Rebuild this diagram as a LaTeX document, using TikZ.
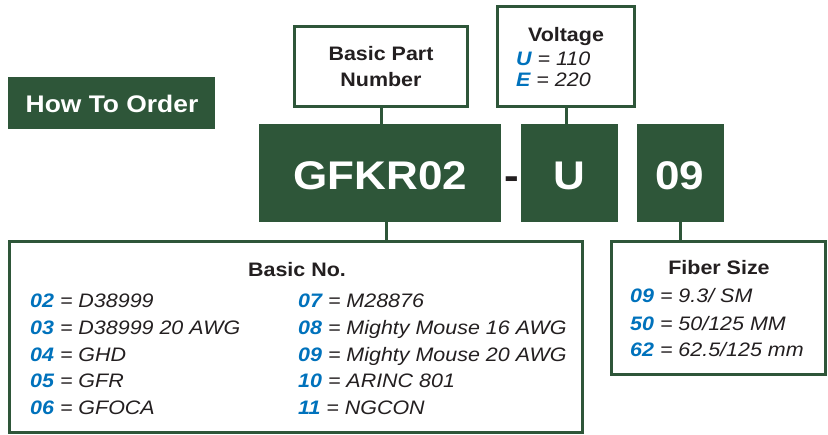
\documentclass[tikz,border=0pt]{standalone}
\usepackage{fontspec}
\setmainfont{Liberation Sans}[FakeStretch=1.1]
\usetikzlibrary{positioning}

\definecolor{hgreen}{RGB}{46,86,57}
\definecolor{hblue}{RGB}{0,114,188}
\definecolor{hink}{RGB}{35,31,32}
\newcommand{\pcode}[2]{{\bfseries\color{hblue}#1} = #2}

\begin{document}
\begin{tikzpicture}[x=1pt,y=-1pt,
	outline/.style={draw=hgreen,line width=3,fill=white,inner sep=0,outer sep=0},
	darkbox/.style={fill=hgreen,inner sep=0,outer sep=0},
	big/.style={anchor=base,text=white,font=\fontsize{40}{40}\selectfont\bfseries},
	head/.style={anchor=base,text=hink,font=\fontsize{19.5}{26}\selectfont\bfseries},
	row/.style={anchor=base west,inner sep=0,text=hink,font=\fontsize{19.5}{26}\selectfont\itshape},
	link/.style={draw=hgreen,line width=3}]
	\useasboundingbox (0,0) rectangle (828,435);
	% label boxes on top
	\node[darkbox, minimum width=207, minimum height=52] (order) at (111.5,103) {};
	\node[anchor=base, text=white, font=\fontsize{24}{24}\selectfont\bfseries] (ordertxt) at (112,113) {How To Order};
	\node[outline, minimum width=173, minimum height=80, align=center, text=hink, font=\fontsize{19.5}{26}\selectfont\bfseries] (bpn) at (381,66.5) {Basic Part\\Number};
	\node[outline, minimum width=137, minimum height=100] (volt) at (566,56.5) {};
	\node[head] (volttitle) at (566,42) {Voltage};
	\node[row] (voltu) at (516,65.5) {\pcode{U}{110}};
	\node[row] (volte) at (516,87) {\pcode{E}{220}};
	% part number blocks
	\node[darkbox, minimum width=242, minimum height=98] (part) at (380,173) {};
	\node[darkbox, minimum width=97, minimum height=98] (volts) at (569.5,173) {};
	\node[darkbox, minimum width=87, minimum height=98] (fibs) at (680.5,173) {};
	\node[big] (parttxt) at (380.5,190) {GFKR02};
	\node[big, text=hink] (dash) at (512,190) {-};
	\node[big] (voltstxt) at (569,190) {U};
	\node[big] (fibstxt) at (680,190) {09};
	% option boxes below
	\node[outline, minimum width=573, minimum height=191] (basic) at (296,337) {};
	\node[outline, minimum width=214, minimum height=133] (fiber) at (718.5,308) {};
	\node[head] (basictitle) at (297,277) {Basic No.};
	\node[row] (b02) at (30,308) {\pcode{02}{D38999}};
	\node[row] (b03) at (30,335) {\pcode{03}{D38999 20 AWG}};
	\node[row] (b04) at (30,362) {\pcode{04}{GHD}};
	\node[row] (b05) at (30,388) {\pcode{05}{GFR}};
	\node[row] (b06) at (30,415) {\pcode{06}{GFOCA}};
	\node[row] (b07) at (298,308) {\pcode{07}{M28876}};
	\node[row] (b08) at (298,335) {\pcode{08}{Mighty Mouse 16 AWG}};
	\node[row] (b09) at (298,362) {\pcode{09}{Mighty Mouse 20 AWG}};
	\node[row] (b10) at (298,388) {\pcode{10}{ARINC 801}};
	\node[row] (b11) at (298,415) {\pcode{11}{NGCON}};
	\node[head] (fibertitle) at (719,275) {Fiber Size};
	\node[row] (f09) at (630,303) {\pcode{09}{9.3/ SM}};
	\node[row] (f50) at (630,331) {\pcode{50}{50/125 MM}};
	\node[row] (f62) at (630,357) {\pcode{62}{62.5/125 mm}};
	% connectors
	\draw[link] (bpn.south) -- (bpn.south |- part.north);
	\draw[link] (volt.south) -- (volt.south |- volts.north);
	\draw[link] ([xshift=6]part.south) -- ([xshift=6]part.south |- basic.north);
	\draw[link] (fibs.south) -- (fibs.south |- fiber.north);
\end{tikzpicture}
\end{document}
